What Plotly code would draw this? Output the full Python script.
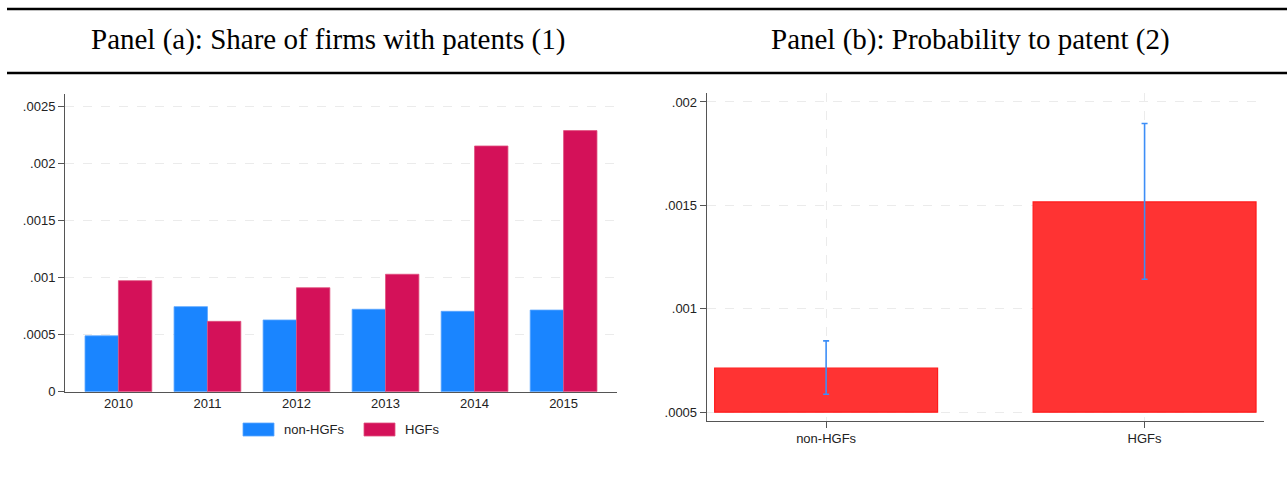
import plotly.graph_objects as go

# Panel (a): share of firms with patents by year
years = ["2010", "2011", "2012", "2013", "2014", "2015"]
share_non_hgf = [0.00049, 0.000746, 0.000629, 0.000723, 0.000705, 0.000716]
share_hgf = [0.000974, 0.000617, 0.000912, 0.00103, 0.002155, 0.00229]
series_names = ["non-HGFs", "HGFs"]

# Panel (b): estimated probability to patent with confidence intervals
groups = ["non-HGFs", "HGFs"]
prob = [0.000713, 0.001517]
ci_low = [0.000587, 0.001143]
ci_high = [0.000845, 0.001896]
prob_base = 0.0005

a_ticks = [0, 0.0005, 0.001, 0.0015, 0.002, 0.0025]
a_ticklabels = ["0", ".0005", ".001", ".0015", ".002", ".0025"]
b_ticks = [0.0005, 0.001, 0.0015, 0.002]
b_ticklabels = [".0005", ".001", ".0015", ".002"]

BLUE = "#1a85ff"
CRIMSON = "#d41159"
RED = "#ff3333"
W, H = 1287, 479
H_DRAW = 471  # vertical extent used for placing layout elements


def px_x(v):
    return v / W


def px_y(v):
    return 1 - v / H_DRAW


fig = go.Figure()

fig.add_trace(go.Bar(
    x=years, y=share_non_hgf, name=series_names[0],
    marker=dict(color=BLUE, line=dict(color="#5aa6ff", width=0.8)),
    xaxis="x", yaxis="y", showlegend=False,
))
fig.add_trace(go.Bar(
    x=years, y=share_hgf, name=series_names[1],
    marker=dict(color=CRIMSON, line=dict(color="#e0507f", width=0.8)),
    xaxis="x", yaxis="y", showlegend=False,
))

fig.add_trace(go.Bar(
    x=groups,
    y=[p - prob_base for p in prob],
    base=prob_base,
    width=0.7,
    marker=dict(color=RED, line=dict(color="#ff1a1a", width=1.2)),
    error_y=dict(
        type="data", symmetric=False,
        array=[h - p for h, p in zip(ci_high, prob)],
        arrayminus=[p - l for p, l in zip(prob, ci_low)],
        color="#3d8ef7", thickness=1.6, width=3,
    ),
    xaxis="x2", yaxis="y2", showlegend=False,
))

axis_line = dict(showline=True, linecolor="#555555", linewidth=1)
tick_font = dict(family="Liberation Sans, Arial, sans-serif", size=13, color="#222222")
grid = dict(showgrid=True, gridcolor="#ebebeb", gridwidth=1, griddash="dash")

fig.update_layout(
    width=W, height=H,
    margin=dict(l=0, r=0, t=0, b=0),
    paper_bgcolor="white", plot_bgcolor="white",
    barmode="group", bargap=0.25, bargroupgap=0,
    xaxis=dict(
        domain=[px_x(65), px_x(617)], range=[-0.6, 5.6],
        ticks="", showgrid=False, tickfont=tick_font, zeroline=False, **axis_line,
    ),
    yaxis=dict(
        domain=[px_y(391.7), px_y(94)], range=[0, 0.002611],
        tickvals=a_ticks, ticktext=a_ticklabels,
        ticks="outside", ticklen=6, tickcolor="#555555",
        tickfont=tick_font, zeroline=False, **grid, **axis_line,
    ),
    xaxis2=dict(
        domain=[px_x(706.7), px_x(1264)], range=[-0.375, 1.375],
        anchor="y2", ticks="outside", ticklen=6, tickcolor="#555555",
        tickfont=tick_font, zeroline=False, **grid, **axis_line,
    ),
    yaxis2=dict(
        domain=[px_y(420.7), px_y(93.3)], range=[0.000459, 0.002042],
        anchor="x2", tickvals=b_ticks, ticktext=b_ticklabels,
        ticks="outside", ticklen=6, tickcolor="#555555",
        tickfont=tick_font, zeroline=False, **grid, **axis_line,
    ),
)

# Header rules and panel titles
title_font = dict(family="Liberation Serif, Times New Roman, serif", size=29, color="black")
shapes = [
    dict(type="line", xref="paper", yref="paper", x0=px_x(7), x1=1,
         y0=px_y(9), y1=px_y(9), line=dict(color="black", width=2.5)),
    dict(type="line", xref="paper", yref="paper", x0=px_x(7), x1=1,
         y0=px_y(73), y1=px_y(73), line=dict(color="black", width=2.5)),
]
annotations = [
    dict(text="Panel (a): Share of firms with patents (1)", x=px_x(328), y=px_y(40),
         xref="paper", yref="paper", showarrow=False, font=title_font,
         xanchor="center", yanchor="middle"),
    dict(text="Panel (b): Probability to patent (2)", x=px_x(970), y=px_y(40),
         xref="paper", yref="paper", showarrow=False, font=title_font,
         xanchor="center", yanchor="middle"),
]

# Legend for panel (a): wide swatches with labels
legend_items = [(series_names[0], BLUE, "#5aa6ff", 243), (series_names[1], CRIMSON, "#e0507f", 364)]
for name, fill, edge, x0 in legend_items:
    shapes.append(dict(type="rect", xref="paper", yref="paper",
                       x0=px_x(x0), x1=px_x(x0 + 31), y0=px_y(436), y1=px_y(423),
                       fillcolor=fill, line=dict(color=edge, width=0.8)))
    annotations.append(dict(text=name, x=px_x(x0 + 39), y=px_y(429.5),
                            xref="paper", yref="paper", showarrow=False,
                            font=tick_font, xanchor="left", yanchor="middle"))

fig.update_layout(shapes=shapes, annotations=annotations)

fig.write_html("out.html")
